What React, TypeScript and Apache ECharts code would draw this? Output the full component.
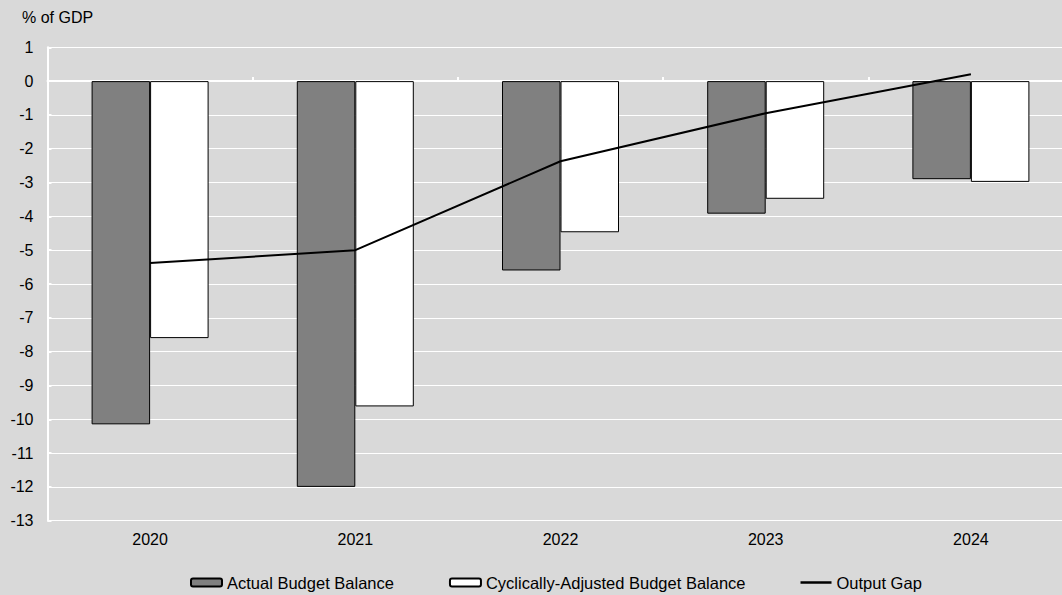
import React, { useEffect, useRef } from "react";
import * as echarts from "echarts";

const years = ["2020", "2021", "2022", "2023", "2024"];
const actualBalance = [-10.15, -12.0, -5.6, -3.92, -2.9];
const cyclicalBalance = [-7.6, -9.62, -4.47, -3.48, -2.98];
const outputGap = [-5.38, -5.0, -2.37, -0.95, 0.2];
const yTicks = { min: -13, max: 1, interval: 1 };

export default function App() {
  const ref = useRef<HTMLDivElement>(null);
  useEffect(() => {
    document.body.style.margin = "0";
    const chart = echarts.init(ref.current!, null, { renderer: "svg" });
    const font = "Arial, 'Liberation Sans', sans-serif";
    chart.setOption({
      animation: false,
      backgroundColor: "#d9d9d9",
      textStyle: { fontFamily: font },
      graphic: [
        {
          type: "text",
          left: 22,
          top: 9,
          style: { text: "% of GDP", font: `16px ${font}`, fill: "#000" },
        },
      ],
      legend: {
        top: 569,
        left: 185,
        itemWidth: 31,
        itemHeight: 8,
        itemGap: 55,
        textStyle: { fontSize: 16.5, color: "#000", fontFamily: font },
        data: [
          { name: "Actual Budget Balance" },
          { name: "Cyclically-Adjusted Budget Balance" },
          { name: "Output Gap", icon: "path://M0,3 H31 V5.5 H0 Z", itemStyle: { color: "#000" } },
        ],
      },
      grid: { left: 47.5, width: 1026, top: 47.3, height: 473.4, outerBoundsMode: "none", containLabel: false },
      xAxis: [
        {
          type: "category",
          data: years,
          position: "bottom",
          axisLine: { onZero: false, show: true, lineStyle: { color: "#fff", width: 1 } },
          axisTick: { show: false },
          axisLabel: { fontSize: 16, color: "#000", margin: 11, fontFamily: font },
        },
        {
          type: "category",
          data: years,
          position: "bottom",
          axisLine: { onZero: true, show: true, lineStyle: { color: "#fff", width: 2 } },
          axisTick: { show: true, inside: true, length: 4, lineStyle: { color: "#fff", width: 2 } },
          axisLabel: { show: false },
        },
      ],
      yAxis: {
        type: "value",
        min: yTicks.min,
        max: yTicks.max,
        interval: yTicks.interval,
        axisLine: { show: true, lineStyle: { color: "#fff", width: 2 } },
        axisTick: { show: true, inside: true, length: 4, lineStyle: { color: "#fff", width: 2 } },
        axisLabel: { fontSize: 16, color: "#000", margin: 14, fontFamily: font },
        splitLine: { show: true, lineStyle: { color: "#fff", width: 1 } },
      },
      series: [
        {
          name: "Actual Budget Balance",
          type: "bar",
          data: actualBalance,
          barWidth: 58.5,
          barGap: "0%",
          itemStyle: { color: "#808080", borderColor: "#000", borderWidth: 1 },
        },
        {
          name: "Cyclically-Adjusted Budget Balance",
          type: "bar",
          data: cyclicalBalance,
          barWidth: 58.5,
          barGap: "0%",
          itemStyle: { color: "#ffffff", borderColor: "#000", borderWidth: 1 },
        },
        {
          name: "Output Gap",
          type: "line",
          data: outputGap,
          symbol: "none",
          z: 5,
          lineStyle: { color: "#000", width: 2 },
          itemStyle: { color: "#000" },
        },
      ],
    });
    return () => chart.dispose();
  }, []);
  return <div ref={ref} style={{ width: 1062, height: 595 }} />;
}
